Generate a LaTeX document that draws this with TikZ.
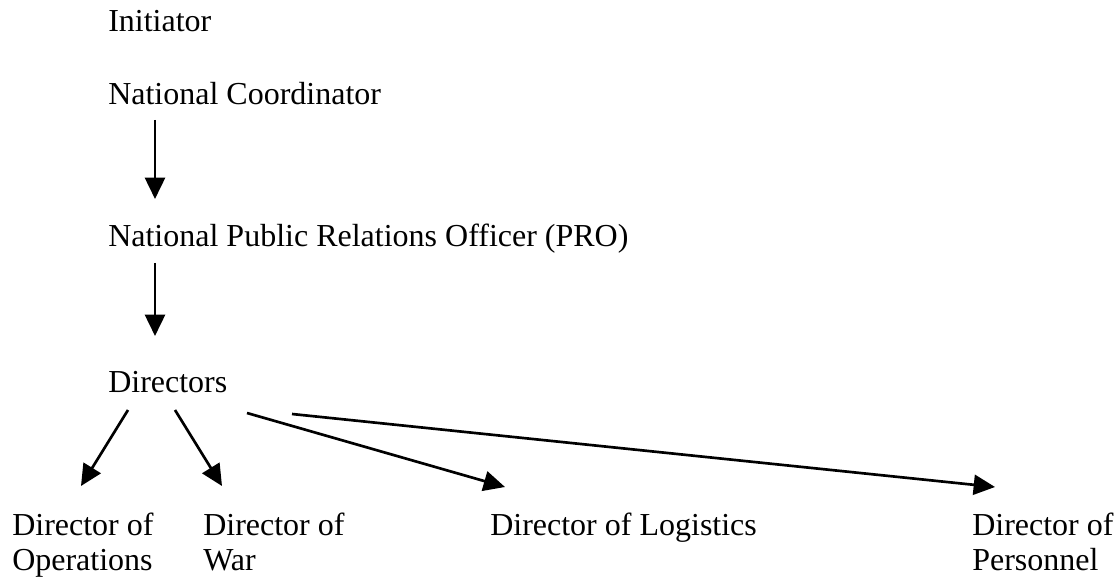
\documentclass[tikz,border=0pt]{standalone}
\usepackage{fontspec}
\setmainfont{Liberation Serif}
\usetikzlibrary{arrows.meta,calc}
\tikzset{
  lbl/.style={anchor=base west, inner sep=0pt, align=left, font=\fontsize{24}{26.25}\selectfont},
  arr/.style={line width=2pt, -{Triangle[length=16pt,width=15pt]}}
}
\begin{document}
\begin{tikzpicture}[x=0.75pt,y=-0.75pt]
\useasboundingbox (0,0) rectangle (1117,577);
\node[lbl] (init) at (108,32) {Initiator};
\node[lbl] (nc) at (108,105) {National Coordinator};
\node[lbl] (npro) at (108,247) {National Public Relations Officer (PRO)};
\node[lbl] (dirs) at (108,392) {Directors};
\node[lbl] (ops) at (12,570) {Director of\\Operations};
\node[lbl] (war) at (203,570) {Director of\\War};
\node[lbl] (log) at (490,535) {Director of Logistics};
\node[lbl] (per) at (972,570) {Director of\\Personnel};
\draw[arr] ($(nc.base west)+(47,15)$) -- ($(npro.base west)+(47,-48)$);
\draw[arr] ($(npro.base west)+(47,16)$) -- ($(dirs.base west)+(47,-56)$);
\draw[arr] ($(dirs.base west)+(20,18)$) -- ($(ops.base west)+(69,-84)$);
\draw[arr] ($(dirs.base west)+(67,18)$) -- ($(war.base west)+(19,-84)$);
\draw[arr] ($(dirs.base west)+(139,21)$) -- ($(log.base west)+(15,-48)$);
\draw[arr] ($(dirs.base west)+(184,22)$) -- ($(per.base west)+(23,-83)$);
\end{tikzpicture}
\end{document}
